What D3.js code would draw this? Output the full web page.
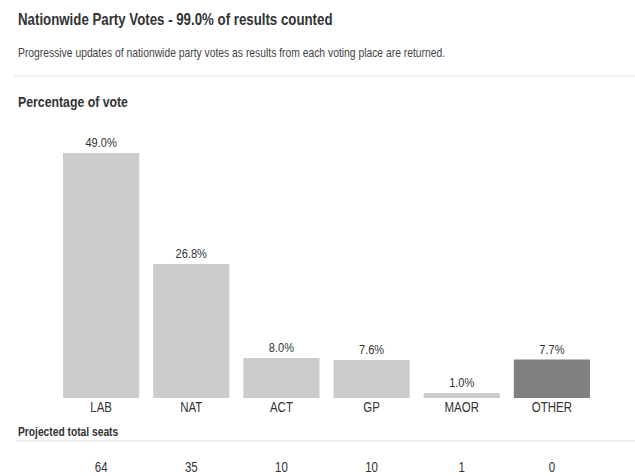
<!DOCTYPE html>
<html lang="en">
<head>
<meta charset="UTF-8">
<script src="https://d3js.org/d3.v7.min.js"></script>
<style>
    body {
        margin: 0;
        padding: 0;
        background: #fff;
        font-family: 'Liberation Sans', Arial, sans-serif;
    }
    svg text { fill: #333; }
    .title { font-size: 16px; font-weight: bold; }
    .sub { font-size: 13px; fill: #444; }
    .head { font-size: 15px; font-weight: bold; }
    .small-head { font-size: 12.5px; font-weight: bold; }
    .val { font-size: 13.5px; }
    .cat { font-size: 14px; }
    .seat { font-size: 14px; }
</style>
</head>
<body>
<div id="chart"></div>
<script>
    // data
    const parties = ["LAB", "NAT", "ACT", "GP", "MAOR", "OTHER"];
    const votes = [49.0, 26.8, 8.0, 7.6, 1.0, 7.7];
    const seats = [64, 35, 10, 10, 1, 0];
    const barColors = ["#cccccc", "#cccccc", "#cccccc", "#cccccc", "#cccccc", "#808080"];

    const width = 635, height = 476;
    const baseY = 398;
    const squeeze = 0.82;   // the source font is narrower than Arial

    const svg = d3.select("#chart").append("svg")
        .attr("width", width)
        .attr("height", height);

    // text placed at (px, py) and squeezed horizontally
    function addText(parent, cls, px, py, str, anchor, sq) {
        return parent.append("text")
            .attr("class", cls)
            .attr("text-anchor", anchor || "start")
            .attr("transform", `translate(${px},${py}) scale(${sq || squeeze},1)`)
            .text(str);
    }

    addText(svg, "title", 18, 25, "Nationwide Party Votes - 99.0% of results counted", "start", 0.83);
    addText(svg, "sub", 18, 57, "Progressive updates of nationwide party votes as results from each voting place are returned.", "start", 0.795);

    svg.append("line")
        .attr("x1", 14).attr("x2", width)
        .attr("y1", 76).attr("y2", 76)
        .attr("stroke", "#ebebeb").attr("stroke-width", 1.5);

    addText(svg, "head", 18, 107, "Percentage of vote");

    const x = d3.scaleBand()
        .domain(parties)
        .range([56, 597])
        .paddingInner(0.155)
        .paddingOuter(0.078);

    const y = d3.scaleLinear()
        .domain([0, 50])
        .range([baseY, baseY - 250]);

    const rows = parties.map((p, i) => ({party: p, vote: votes[i], seat: seats[i], color: barColors[i]}));
    const cx = d => x(d.party) + x.bandwidth() / 2;

    const g = svg.append("g");

    g.selectAll("rect")
        .data(rows)
        .join("rect")
        .attr("x", d => x(d.party))
        .attr("width", x.bandwidth())
        .attr("y", d => y(d.vote))
        .attr("height", d => y(0) - y(d.vote))
        .attr("fill", d => d.color);

    rows.forEach(d => {
        addText(g, "val", cx(d), y(d.vote) - 6, d.vote.toFixed(1) + "%", "middle");
        addText(g, "cat", cx(d), baseY + 14, d.party, "middle");
        addText(g, "seat", cx(d), 472, d.seat, "middle");
    });

    addText(svg, "small-head", 18, 436, "Projected total seats");

    svg.append("line")
        .attr("x1", 16).attr("x2", width)
        .attr("y1", 441).attr("y2", 441)
        .attr("stroke", "#ededed").attr("stroke-width", 1.5);
</script>
</body>
</html>
